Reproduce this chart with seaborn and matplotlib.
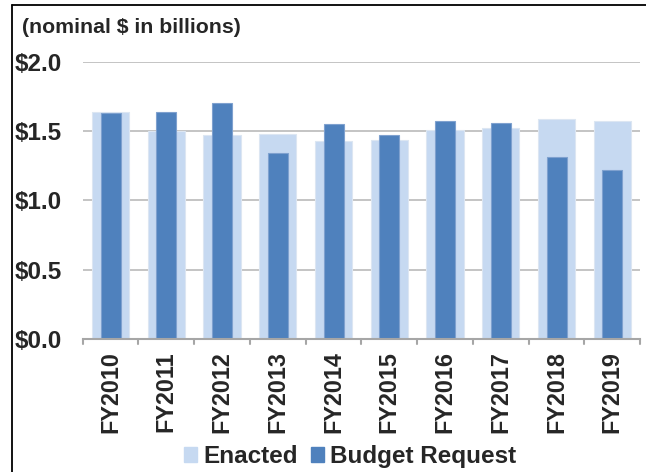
import numpy as np
import pandas as pd
import seaborn as sns
import matplotlib.pyplot as plt
from matplotlib.lines import Line2D
from matplotlib.patches import Patch

years = ['FY2010', 'FY2011', 'FY2012', 'FY2013', 'FY2014',
         'FY2015', 'FY2016', 'FY2017', 'FY2018', 'FY2019']
enacted = [1.64, 1.50, 1.47, 1.48, 1.43, 1.435, 1.51, 1.52, 1.59, 1.575]
request = [1.63, 1.64, 1.70, 1.34, 1.55, 1.47, 1.575, 1.56, 1.31, 1.22]

light = '#C6D9F1'
dark = '#4F81BD'

sns.set_style('white')
plt.rcParams['font.family'] = ['Liberation Sans', 'DejaVu Sans']
plt.rcParams['font.weight'] = 'bold'

df = pd.DataFrame({'year': years, 'Enacted': enacted, 'Budget Request': request})

fig = plt.figure(figsize=(6.46, 4.72), dpi=100)
ax = fig.add_axes([0.128, 0.282, 0.863, 0.587])

sns.barplot(data=df, x='year', y='Enacted', color=light, width=0.67,
            edgecolor='#DCE6F2', linewidth=0.8, saturation=1, ax=ax)
n_light = len(ax.patches)
sns.barplot(data=df, x='year', y='Budget Request', color=dark, width=0.36,
            edgecolor='#7FA1CF', linewidth=0.8, saturation=1, ax=ax)
for i, p in enumerate(ax.patches):
    p.set_zorder(2 if i < n_light else 3)

# gridlines behind the bars
ax.set_axisbelow(True)
ax.yaxis.grid(True, color='#C4C4C4', lw=1.4)
ax.xaxis.grid(False)

ax.set_ylim(0, 2.0)
ax.set_xlim(-0.5, len(years) - 0.5)
ax.set_yticks([0, 0.5, 1.0, 1.5, 2.0])
ax.set_yticklabels(['$0.0', '$0.5', '$1.0', '$1.5', '$2.0'], fontsize=17.5, fontweight='bold')
ax.set_xticks(range(len(years)))
ax.set_xticklabels(years, rotation=90, fontsize=16.8, fontweight='bold')
ax.tick_params(axis='x', length=0, pad=9)
ax.tick_params(axis='y', length=0, pad=15)
ax.set_xlabel('')
ax.set_ylabel('')
for s in ['top', 'right', 'left']:
    ax.spines[s].set_visible(False)
ax.spines['bottom'].set_color('#A6A6A6')
ax.spines['bottom'].set_linewidth(1.5)
ax.spines['bottom'].set_zorder(5)

# category boundary ticks on the x axis
for b in np.arange(-0.5, len(years), 1.0):
    ax.plot([b, b], [0, -0.035], color='#A6A6A6', lw=1.5, clip_on=False, zorder=4)

fig.text(0.034, 0.942, '(nominal \\$ in billions)', fontsize=15.3, fontweight='bold',
         ha='left', va='center')

handles = [Patch(facecolor=light, edgecolor=light), Patch(facecolor=dark, edgecolor=dark)]
fig.legend(handles, ['Enacted', 'Budget Request'], loc='center', bbox_to_anchor=(0.542, 0.032),
           ncol=2, frameon=False, prop={'size': 17.5, 'weight': 'bold'},
           handlelength=0.55, handleheight=0.55, handletextpad=0.25, columnspacing=0.55,
           borderpad=0)

# frame lines on the left and top edges
fig.add_artist(Line2D([0.019, 0.019], [0, 0.989], transform=fig.transFigure,
                      color='black', lw=1.3))
fig.add_artist(Line2D([0.019, 1.0], [0.989, 0.989], transform=fig.transFigure,
                      color='black', lw=1.3))

fig.savefig('out.png', dpi=100)
